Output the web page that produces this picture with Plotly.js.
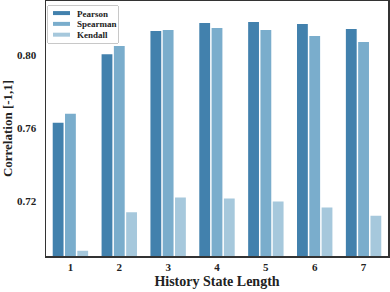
<!DOCTYPE html>
<html>
<head>
<meta charset="utf-8">
<script src="https://cdn.plot.ly/plotly-3.0.1.min.js"></script>
<style>
  html, body { margin: 0; padding: 0; background: #fff; }
  #plot { width: 390px; height: 292px; }
</style>
</head>
<body>
<div id="plot"></div>
<script>
// history state lengths on the x axis
var lengths = ['1', '2', '3', '4', '5', '6', '7'];

// correlation values
var pearson  = [0.7629, 0.8005, 0.8132, 0.8176, 0.8181, 0.8170, 0.8143];
var spearman = [0.7679, 0.8050, 0.8137, 0.8148, 0.8137, 0.8104, 0.8071];
var kendall  = [0.6929, 0.7140, 0.7220, 0.7215, 0.7198, 0.7165, 0.7121];

var yTicks = [0.72, 0.76, 0.80];

var trPearson = {
  x: lengths, y: pearson, name: 'Pearson', type: 'bar',
  marker: { color: '#4281ad' }
};
var trSpearman = {
  x: lengths, y: spearman, name: 'Spearman', type: 'bar',
  marker: { color: '#7aadcc' }
};
var trKendall = {
  x: lengths, y: kendall, name: 'Kendall', type: 'bar',
  marker: { color: '#a6c8dc' }
};

var data = [trPearson, trSpearman, trKendall];

var serif = 'Liberation Serif, Times New Roman, serif';

var layout = {
  width: 390,
  height: 292,
  margin: { l: 46, r: 2, t: 1, b: 36 },
  paper_bgcolor: '#fff',
  plot_bgcolor: '#fff',
  barmode: 'group',
  bargap: 0.245,
  bargroupgap: 0.12,
  font: { family: serif, color: '#222' },
  showlegend: true,
  legend: {
    x: 0.003, y: 0.984,
    xanchor: 'left', yanchor: 'top',
    bgcolor: '#fff', bordercolor: '#c8c8c8', borderwidth: 1,
    font: { family: serif, size: 9, color: '#222', weight: 'bold' },
    tracegroupgap: 0
  },
  xaxis: {
    type: 'category',
    range: [-0.5, 6.5],
    showgrid: false, zeroline: false,
    showline: true, linecolor: '#333', linewidth: 1.5, mirror: true,
    ticks: '',
    tickfont: { family: serif, size: 11, color: '#222', weight: 'bold' },
    title: { text: 'History State Length', standoff: 4,
             font: { family: serif, size: 14, color: '#222', weight: 'bold' } }
  },
  yaxis: {
    range: [0.69, 0.8296],
    tickvals: yTicks,
    ticktext: yTicks.map(function (v) { return v.toFixed(2); }),
    showgrid: false, zeroline: false,
    showline: true, linecolor: '#333', linewidth: 1.5, mirror: true,
    ticks: '', ticklabelstandoff: 6,
    tickfont: { family: serif, size: 11, color: '#222', weight: 'bold' },
    title: { text: 'Correlation [-1,1]', standoff: 8,
             font: { family: serif, size: 13, color: '#222', weight: 'bold' } }
  }
};

// squeeze the legend into the compact matplotlib-style box
function compactLegend(gd) {
  var leg = gd.querySelector('.legend');
  if (!leg) return;
  var bg = leg.querySelector('rect.bg');
  if (bg) {
    bg.setAttribute('x', 0.5);
    bg.setAttribute('y', 0.5);
    bg.setAttribute('width', 71);
    bg.setAttribute('height', 38);
    bg.setAttribute('rx', 2);
  }
  var items = leg.querySelectorAll('.traces');
  items.forEach(function (it, i) {
    it.setAttribute('transform', 'translate(0,' + (8 + i * 10.8) + ')');
    it.querySelectorAll('.legendpoints path').forEach(function (p) {
      p.setAttribute('d', 'M8.5,2H-8.5V-2H8.5Z');
      p.setAttribute('transform', 'translate(14.5,0)');
      p.style.strokeWidth = '0px';
    });
    var t = it.querySelector('.legendtext');
    if (t) t.setAttribute('x', 30);
  });
}

Plotly.newPlot('plot', data, layout, { displayModeBar: false, staticPlot: true })
  .then(compactLegend);
</script>
</body>
</html>
